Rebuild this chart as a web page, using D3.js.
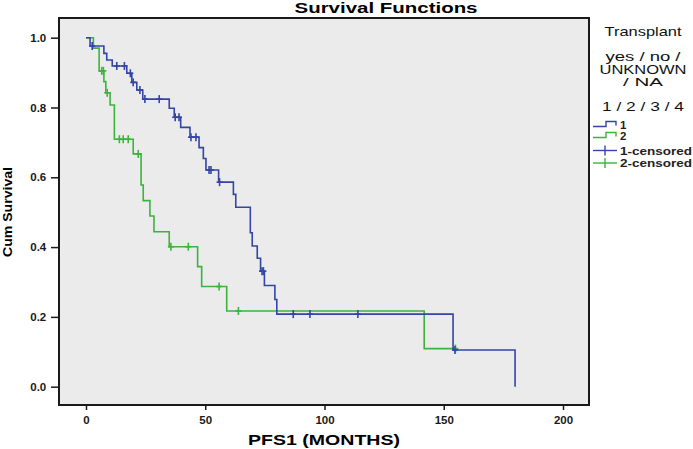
<!DOCTYPE html>
<html>
<head>
<meta charset="utf-8">
<script src="https://cdn.jsdelivr.net/npm/d3@7"></script>
<style>
  body { margin: 0; background: #fff; }
  svg { font-family: "Liberation Sans", Arial, sans-serif; }
</style>
</head>
<body>
<svg id="chart" width="693" height="449"></svg>
<script>
// group 1 (blue): event times (months) and survival after each step
const g1Times = [1.7, 7.5, 8.7, 11.0, 17.1, 19.2, 21.3, 23.8, 34.9, 37.0, 39.7, 43.6, 47.4, 49.2, 50.3, 55.6, 61.8, 62.8, 68.9, 69.7, 71.8, 73.2, 74.8, 79.2, 80.0, 153.9, 179.9];
const g1Surv  = [0.976, 0.955, 0.936, 0.919, 0.898, 0.872, 0.850, 0.824, 0.798, 0.772, 0.743, 0.715, 0.685, 0.654, 0.621, 0.586, 0.551, 0.514, 0.441, 0.403, 0.368, 0.331, 0.290, 0.250, 0.208, 0.105, 0.0];
const g1Censored = [2.6, 12.9, 16.1, 18.6, 19.8, 22.6, 24.7, 30.7, 37.4, 39.0, 44.0, 46.1, 51.6, 52.4, 56.0, 73.8, 74.4, 86.9, 93.9, 114.0, 154.7];
const g1End = 179.9;

// group 2 (green)
const g2Times = [3.1, 5.5, 7.5, 8.3, 10.1, 11.9, 19.8, 23.1, 24.0, 26.8, 28.5, 34.9, 46.8, 48.5, 59.0, 141.8];
const g2Surv  = [0.970, 0.905, 0.874, 0.842, 0.807, 0.709, 0.667, 0.578, 0.533, 0.489, 0.444, 0.401, 0.344, 0.287, 0.217, 0.109];
const g2Censored = [6.6, 7.3, 8.9, 14.0, 15.6, 17.7, 21.9, 35.6, 42.9, 55.8, 63.9, 154.9];
const g2End = 155.6;

const xTicks = [0, 50, 100, 150, 200];
const yTicks = [0.0, 0.2, 0.4, 0.6, 0.8, 1.0];

const legendTitle = ["Transplant", "yes / no /", "UNKNOWN", "/ NA", "1 / 2 / 3 / 4"];
const legendItems = ["1", "2", "1-censored", "2-censored"];

const blue = "#3345a6";
const green = "#3cb43c";

const svg = d3.select("#chart");
const plot = { left: 59, right: 589, top: 18, bottom: 405 };

const x = d3.scaleLinear().domain([-11.32, 210.9]).range([plot.left, plot.right]);
const y = d3.scaleLinear().domain([-0.0525, 1.0564]).range([plot.bottom, plot.top]);

// plot background + frame
svg.append("rect")
  .attr("x", plot.left).attr("y", plot.top)
  .attr("width", plot.right - plot.left).attr("height", plot.bottom - plot.top)
  .attr("fill", "#ebebeb")
  .attr("stroke", "#1a1a1a")
  .attr("stroke-width", 2);

// axes
const xAxis = d3.axisBottom(x).tickValues(xTicks).tickSize(5).tickSizeOuter(0).tickFormat(d3.format("d"));
const yAxis = d3.axisLeft(y).tickValues(yTicks).tickSize(8).tickSizeOuter(0).tickFormat(d3.format(".1f"));

const gx = svg.append("g").attr("transform", `translate(0,${plot.bottom})`).call(xAxis);
const gy = svg.append("g").attr("transform", `translate(${plot.left},0)`).call(yAxis);
[gx, gy].forEach((ax) => {
  ax.select(".domain").remove();
  ax.selectAll("line").attr("stroke", "#1a1a1a").attr("stroke-width", 1.5);
  ax.selectAll("text")
    .attr("fill", "#1a1a1a")
    .style("font-size", "11.5px")
    .style("font-weight", "bold");
});
gx.selectAll("text").attr("dy", "0.95em");
gy.selectAll("text").attr("dx", "-0.15em");

// step lines
function stepPoints(times, surv, end) {
  const pts = [[0, 1]];
  times.forEach((t, i) => pts.push([t, surv[i]]));
  const last = pts[pts.length - 1];
  if (end > last[0]) pts.push([end, last[1]]);
  return pts;
}
function survAt(times, surv, t) {
  let s = 1;
  times.forEach((tt, i) => { if (tt <= t) s = surv[i]; });
  return s;
}

const line = d3.line()
  .x((d) => x(d[0]))
  .y((d) => y(d[1]))
  .curve(d3.curveStepAfter);

const groups = [
  { times: g2Times, surv: g2Surv, cens: g2Censored, end: g2End, color: green },
  { times: g1Times, surv: g1Surv, cens: g1Censored, end: g1End, color: blue }
];

groups.forEach((grp) => {
  svg.append("path")
    .datum(stepPoints(grp.times, grp.surv, grp.end))
    .attr("d", line)
    .attr("fill", "none")
    .attr("stroke", grp.color)
    .attr("stroke-width", 1.6);

  const marks = svg.append("g");
  marks.selectAll("line.v")
    .data(grp.cens)
    .join("line")
    .attr("class", "v")
    .attr("x1", (d) => x(d)).attr("x2", (d) => x(d))
    .attr("y1", (d) => y(survAt(grp.times, grp.surv, d)) - 4)
    .attr("y2", (d) => y(survAt(grp.times, grp.surv, d)) + 4)
    .attr("stroke", grp.color)
    .attr("stroke-width", 1.6);
  marks.selectAll("line.h")
    .data(grp.cens)
    .join("line")
    .attr("class", "h")
    .attr("x1", (d) => x(d) - 3).attr("x2", (d) => x(d) + 3)
    .attr("y1", (d) => y(survAt(grp.times, grp.surv, d)))
    .attr("y2", (d) => y(survAt(grp.times, grp.surv, d)))
    .attr("stroke", grp.color)
    .attr("stroke-width", 1.6);
});

// title and axis labels (stretched to the widths seen in the picture)
svg.append("text")
  .attr("x", 386).attr("y", 12.5)
  .attr("text-anchor", "middle")
  .attr("textLength", 183).attr("lengthAdjust", "spacingAndGlyphs")
  .style("font-size", "14px").style("font-weight", "bold")
  .text("Survival Functions");

svg.append("text")
  .attr("x", 324).attr("y", 445)
  .attr("text-anchor", "middle")
  .attr("textLength", 152).attr("lengthAdjust", "spacingAndGlyphs")
  .style("font-size", "15px").style("font-weight", "bold")
  .text("PFS1 (MONTHS)");

svg.append("text")
  .attr("transform", "translate(12,212) rotate(-90)")
  .attr("text-anchor", "middle")
  .attr("textLength", 90).attr("lengthAdjust", "spacingAndGlyphs")
  .style("font-size", "13px").style("font-weight", "bold")
  .text("Cum Survival");

// legend
const legendTitleY = [36, 61, 73.5, 86, 110.5];
const legendTitleW = [77, 75, 87, 40, 82];
const legendTitleSize = [13, 12, 12, 11, 13];
legendTitle.forEach((t, i) => {
  svg.append("text")
    .attr("x", 643).attr("y", legendTitleY[i])
    .attr("text-anchor", "middle")
    .attr("textLength", legendTitleW[i]).attr("lengthAdjust", "spacingAndGlyphs")
    .style("font-size", legendTitleSize[i] + "px")
    .attr("fill", "#111")
    .text(t);
});

const legendY = [124.5, 135.5, 150.5, 163];
const legendColors = [blue, green, blue, green];
legendItems.forEach((label, i) => {
  const ly = legendY[i];
  const c = legendColors[i];
  if (i < 2) {
    svg.append("path")
      .attr("d", `M593,${ly + 2}H606V${ly - 3}H616V${ly + 1}`)
      .attr("fill", "none").attr("stroke", c).attr("stroke-width", 1.4);
  } else {
    svg.append("line").attr("x1", 593).attr("x2", 617).attr("y1", ly).attr("y2", ly)
      .attr("stroke", c).attr("stroke-width", 1.4);
    svg.append("line").attr("x1", 605).attr("x2", 605).attr("y1", ly - 5).attr("y2", ly + 5)
      .attr("stroke", c).attr("stroke-width", 1.4);
  }
  const txt = svg.append("text")
    .attr("x", 620).attr("y", ly + 4)
    .style("font-size", "11.5px").style("font-weight", "bold")
    .attr("fill", "#222")
    .text(label);
  if (i >= 2) txt.attr("textLength", 72).attr("lengthAdjust", "spacingAndGlyphs");
});
</script>
</body>
</html>
